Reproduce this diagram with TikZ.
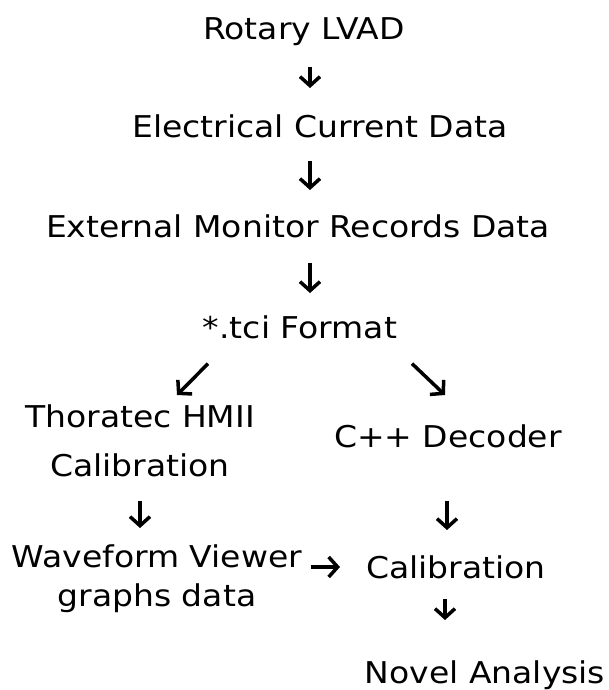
\documentclass[tikz,border=0pt]{standalone}
\usepackage{fontspec}
\setmainfont{DejaVu Sans}[FakeStretch=1.1]
\usetikzlibrary{arrows.meta}
\begin{document}
\begin{tikzpicture}[x=1pt,y=-1pt,
  lbl/.style={font=\fontsize{30}{37}\selectfont, inner sep=0pt, align=center},
  arr/.style={line width=3.5pt, -{Straight Barb[length=9pt,width=20pt]}}]
\useasboundingbox[fill=white] (0,0) rectangle (608,690);
\node[lbl,anchor=base] (rotary) at (304,40) {Rotary LVAD};
\node[lbl,anchor=base] (elec) at (320,137) {Electrical Current Data};
\node[lbl,anchor=base] (ext) at (298,237) {External Monitor Records Data};
\node[lbl,anchor=base] (tci) at (300,338) {*.tci Format};
\node[lbl,anchor=north] (thor) at (140,405) {Thoratec HMII\\[12pt]Calibration};
\node[lbl,anchor=base] (cpp) at (448,447) {C++ Decoder};
\node[lbl,anchor=north] (wave) at (157,544) {Waveform Viewer\\[2pt]graphs data};
\node[lbl,anchor=base] (calib) at (456,578) {Calibration};
\node[lbl,anchor=base] (novel) at (485,683) {Novel Analysis};
\coordinate (hm) at ([yshift=11pt]calib.base);
\draw[arr, shorten <=21pt, shorten >=26pt] (310,0 |- rotary.south) -- (310,0 |- elec.north);
\draw[arr, shorten <=23pt, shorten >=24pt] (310,0 |- elec.south) -- (310,0 |- ext.north);
\draw[arr, shorten <=25pt, shorten >=22pt] (310,0 |- ext.south) -- (310,0 |- tci.north);
\draw[arr] ([shift={(-92,25)}]tci.south) -- ([shift={(37,-10)}]thor.north);
\draw[arr] ([shift={(112,25)}]tci.south) -- ([shift={(-3,-29)}]cpp.north);
\draw[arr, shorten <=23pt, shorten >=16pt] (140,0 |- thor.south) -- (140,0 |- wave.north);
\draw[arr, shorten <=53pt, shorten >=25pt] (447,0 |- cpp.south) -- (447,0 |- calib.north);
\draw[arr, shorten <=9pt, shorten >=26pt] (wave.east |- hm) -- (calib.west |- hm);
\draw[arr, shorten <=20pt, shorten >=40pt] (445,0 |- calib.south) -- (445,0 |- novel.north);
\end{tikzpicture}
\end{document}
